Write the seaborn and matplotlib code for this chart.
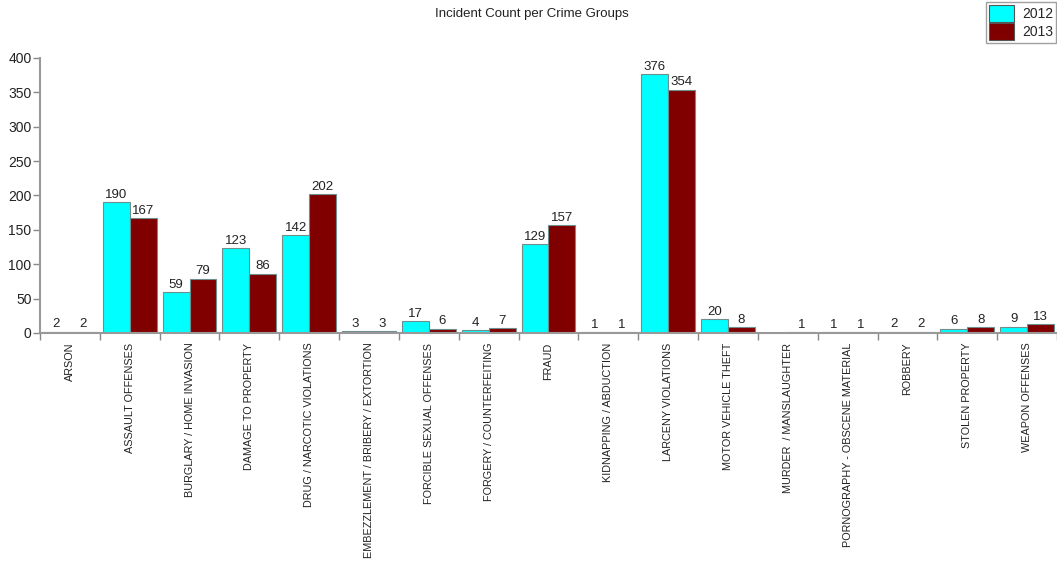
import numpy as np
import pandas as pd
import matplotlib
matplotlib.use("Agg")
import matplotlib.pyplot as plt
import seaborn as sns

categories = [
    "ARSON", "ASSAULT OFFENSES", "BURGLARY / HOME INVASION", "DAMAGE TO PROPERTY",
    "DRUG / NARCOTIC VIOLATIONS", "EMBEZZLEMENT / BRIBERY / EXTORTION",
    "FORCIBLE SEXUAL OFFENSES", "FORGERY / COUNTERFEITING", "FRAUD",
    "KIDNAPPING / ABDUCTION", "LARCENY VIOLATIONS", "MOTOR VEHICLE THEFT",
    "MURDER  / MANSLAUGHTER", "PORNOGRAPHY - OBSCENE MATERIAL", "ROBBERY",
    "STOLEN PROPERTY", "WEAPON OFFENSES",
]
count_2012 = [2, 190, 59, 123, 142, 3, 17, 4, 129, 1, 376, 20, 0, 1, 2, 6, 9]
count_2013 = [2, 167, 79, 86, 202, 3, 6, 7, 157, 1, 354, 8, 1, 1, 2, 8, 13]
years = ["2012", "2013"]

df = pd.DataFrame({
    "group": categories * 2,
    "year": [years[0]] * len(categories) + [years[1]] * len(categories),
    "count": count_2012 + count_2013,
})

sns.set_style("white")
plt.rcParams["font.family"] = ["Liberation Sans", "DejaVu Sans"]

fig = plt.figure(figsize=(10.57, 5.62), dpi=100)
ax = fig.add_axes([0.0378, 0.4075, 0.9622, 0.4893])

palette = {"2012": "#00FFFF", "2013": "#800000"}
sns.barplot(data=df, x="group", y="count", hue="year", palette=palette,
            order=categories, hue_order=years, width=0.9, saturation=1,
            edgecolor="#6f8f8f", linewidth=0.8, ax=ax, legend=False)

for cont in ax.containers:
    vals = cont.datavalues
    ax.bar_label(cont, labels=[f"{int(v)}" if v > 0 else "" for v in vals],
                 padding=1, fontsize=9.5, color="#222222")

ax.set_xlim(-0.5, len(categories) - 0.5)
ax.set_ylim(0, 400)
ax.set_yticks(np.arange(0, 401, 50))
ax.set_xlabel("")
ax.set_ylabel("")

ax.set_xticks(np.arange(len(categories)))
ax.set_xticklabels(categories, rotation=90, fontsize=7.8, color="#222222")
ax.set_xticks(np.arange(len(categories) + 1) - 0.5, minor=True)
ax.tick_params(axis="x", which="major", length=0, pad=7)
ax.tick_params(axis="x", which="minor", length=5, color="#888888", width=1,
               bottom=True, direction="out")
ax.tick_params(axis="y", length=5, color="#888888", width=1, left=True,
               labelsize=10, labelcolor="#222222", pad=1)

for s in ["top", "right"]:
    ax.spines[s].set_visible(False)
for s in ["left", "bottom"]:
    ax.spines[s].set_color("#999999")
    ax.spines[s].set_linewidth(1.5)

fig.text(0.503, 0.975, "Incident Count per Crime Groups", ha="center", va="center",
         fontsize=9.5, color="#222222")

handles = [plt.Rectangle((0, 0), 1, 1, facecolor=palette[y], edgecolor="#555555",
                         linewidth=0.8) for y in years]
leg = fig.legend(handles, years, loc="upper right", bbox_to_anchor=(0.9995, 0.996),
                 frameon=True, fancybox=False, fontsize=10, handlelength=1.8,
                 handleheight=1.5, handletextpad=0.6, borderpad=0.2,
                 labelspacing=0.1, borderaxespad=0)
leg.get_frame().set_edgecolor("#888888")
leg.get_frame().set_linewidth(1)

fig.savefig("out.png", dpi=100)
